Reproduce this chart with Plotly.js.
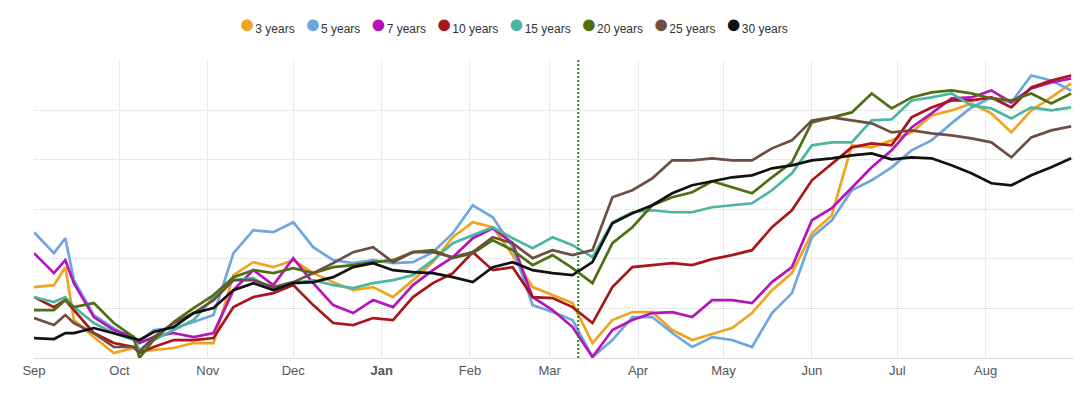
<!DOCTYPE html>
<html>
<head>
<meta charset="utf-8">
<script src="https://cdn.plot.ly/plotly-3.0.1.min.js"></script>
<style>
  html, body { margin: 0; padding: 0; background: #fff; }
  #chart { width: 1092px; height: 396px; }
</style>
</head>
<body>
<div id="chart"></div>
<script>
// Dates (weekly samples, with a few extra points at turning points)
const dates = [
  '2021-09-01','2021-09-08','2021-09-12','2021-09-15','2021-09-22','2021-09-29',
  '2021-10-06','2021-10-08','2021-10-13','2021-10-20','2021-10-27',
  '2021-11-03','2021-11-10','2021-11-17','2021-11-24',
  '2021-12-01','2021-12-08','2021-12-15','2021-12-22','2021-12-29',
  '2022-01-05','2022-01-12','2022-01-19','2022-01-26',
  '2022-02-02','2022-02-09','2022-02-16','2022-02-23',
  '2022-03-02','2022-03-09','2022-03-16','2022-03-23','2022-03-30',
  '2022-04-06','2022-04-13','2022-04-20','2022-04-27',
  '2022-05-04','2022-05-11','2022-05-18','2022-05-25',
  '2022-06-01','2022-06-08','2022-06-15','2022-06-22','2022-06-29',
  '2022-07-06','2022-07-13','2022-07-20','2022-07-27',
  '2022-08-03','2022-08-10','2022-08-17','2022-08-24','2022-08-31'
];

const names = ['3 years','5 years','7 years','10 years','15 years','20 years','25 years','30 years'];

const y3  = [71,73,91,38,21,5,10,6,8,10,15,15,83,96,91,98,85,76,68,71,61,78,96,121,136,131,103,71,63,55,15,38,46,46,28,18,24,30,45,68,85,125,143,213,211,218,226,243,248,255,245,226,248,261,275];
const y5  = [126,105,120,78,43,30,18,16,28,30,36,43,105,128,126,136,111,98,95,98,95,96,106,125,153,141,111,53,46,38,1,18,41,41,25,11,21,18,11,45,65,121,138,168,178,191,208,218,235,251,261,256,283,278,268];
const y7  = [105,85,98,75,41,28,21,15,21,25,21,25,68,88,73,100,75,53,45,58,51,73,88,101,120,130,115,61,48,31,1,28,38,45,46,41,58,58,55,76,91,138,150,171,191,208,231,245,260,261,268,256,270,276,280];
const y10 = [61,51,58,48,25,15,11,5,11,18,18,20,51,61,65,73,53,35,33,40,38,61,75,85,106,88,91,61,60,51,35,71,91,93,95,93,99,103,108,131,148,178,195,211,215,213,241,251,258,258,261,251,271,278,283];
const y15 = [61,56,61,51,35,25,18,8,18,28,38,61,78,80,68,75,78,73,70,75,78,83,98,115,123,131,120,110,121,113,101,136,146,148,146,146,151,153,155,168,185,213,216,216,238,239,258,261,265,253,250,240,251,248,251];
const y20 = [48,48,58,51,55,35,21,0,18,36,50,63,81,88,85,90,85,91,93,96,98,106,108,100,105,118,108,93,103,90,75,115,131,153,161,166,177,171,165,181,196,236,241,246,265,250,261,266,268,265,260,258,265,255,265];
const y25 = [40,33,43,35,25,11,11,6,21,35,45,58,78,78,71,76,85,95,106,111,96,106,106,101,106,121,115,100,108,103,108,161,168,180,198,198,200,198,198,210,218,238,241,238,235,226,228,225,223,220,216,201,221,228,232];
const y30 = [20,19,25,25,30,25,20,18,26,31,45,50,68,75,68,75,76,81,91,95,88,86,85,81,76,91,96,88,85,83,96,135,145,153,165,173,177,181,183,190,193,198,200,203,205,199,201,200,193,185,175,173,183,191,200];

const series = [y3, y5, y7, y10, y15, y20, y25, y30];
const colors = ['#f2a31c','#6ea6e0','#b414b8','#a8161b','#4bb7a2','#4f6f12','#6e4d42','#111111'];

const tickVals = ['2021-09-01','2021-10-01','2021-11-01','2021-12-01','2022-01-01','2022-02-01',
                  '2022-03-01','2022-04-01','2022-05-01','2022-06-01','2022-07-01','2022-08-01'];
const tickText = ['Sep','Oct','Nov','Dec','<b>Jan</b>','Feb','Mar','Apr','May','Jun','Jul','Aug'];

const eventDate = '2022-03-11';

const traces = series.map((ys, i) => ({
  x: dates, y: ys, type: 'scatter', mode: 'lines',
  name: names[i], showlegend: false,
  line: { color: colors[i], width: 2.7 },
  hoverinfo: 'skip'
}));

// Legend row: coloured dot + series name, built from the names/colors arrays
const legendText = names.map((n, i) =>
  '<span style="color:' + colors[i] + ';font-size:27px">\u25CF</span>' + n
).join('\u00a0\u00a0\u00a0');

const layout = {
  width: 1092, height: 396,
  margin: { l: 34, r: 18, t: 60, b: 38 },
  paper_bgcolor: '#fff', plot_bgcolor: '#fff',
  font: { family: 'Liberation Sans, Arial, sans-serif', size: 12, color: '#333' },
  showlegend: false,
  annotations: [{
    xref: 'paper', yref: 'paper', x: 0.4615, y: 1.121, xanchor: 'center', yanchor: 'middle',
    showarrow: false, text: legendText,
    font: { family: 'Liberation Sans, Arial, sans-serif', size: 12, color: '#333' }
  }],
  xaxis: {
    type: 'date',
    range: ['2021-09-01', '2022-09-01'],
    tickmode: 'array', tickvals: tickVals, ticktext: tickText,
    showgrid: true, gridcolor: '#d6d6d6', griddash: '1px,1px', gridwidth: 1,
    showline: true, linecolor: '#dcdcdc', linewidth: 1,
    ticks: '', tickfont: { size: 13, color: '#555' },
    zeroline: false, fixedrange: true
  },
  yaxis: {
    range: [0, 298.5],
    tickmode: 'linear', tick0: 0, dtick: 298 / 6,
    showticklabels: false,
    showgrid: true, gridcolor: '#d6d6d6', griddash: '1px,1px', gridwidth: 1,
    zeroline: false, showline: false, fixedrange: true
  },
  shapes: [{
    type: 'line', xref: 'x', yref: 'paper',
    x0: eventDate, x1: eventDate, y0: 0, y1: 1,
    line: { color: '#1a8a1a', width: 2, dash: '2px,2px' }
  }]
};

Plotly.newPlot('chart', traces, layout, { displayModeBar: false, staticPlot: true });
</script>
</body>
</html>
